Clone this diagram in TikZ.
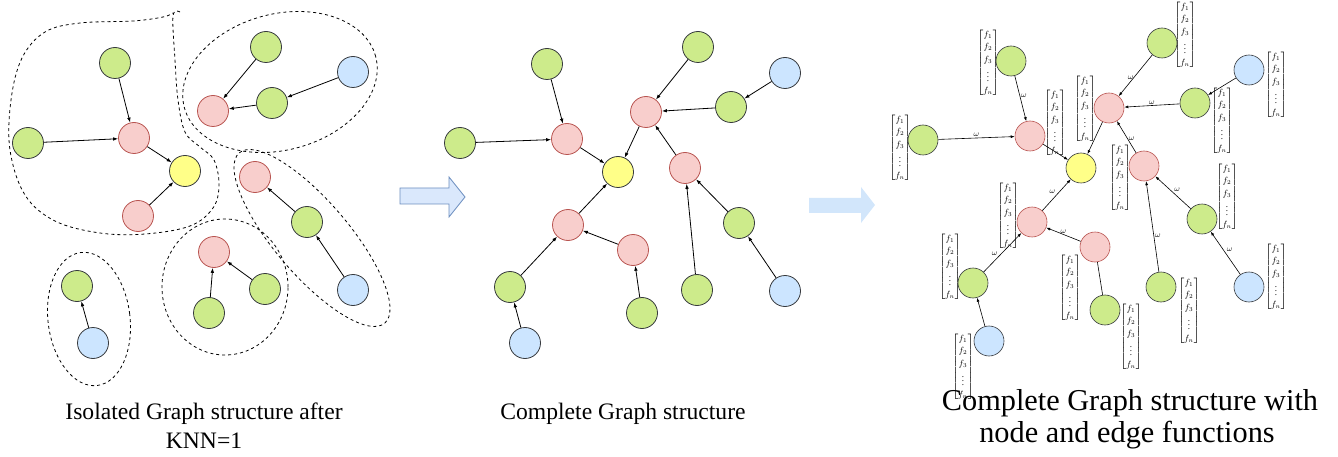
\documentclass[tikz,border=0pt]{standalone}
\usepackage{amsmath}
\usepackage{fontspec}
\setmainfont{Liberation Serif}
\usetikzlibrary{arrows.meta}
\definecolor{gfill}{HTML}{CDEB8B}
\definecolor{pfill}{HTML}{F8CECC}
\definecolor{pdraw}{HTML}{B85450}
\definecolor{yfill}{HTML}{FFFF88}
\definecolor{bfill}{HTML}{CCE5FF}
\definecolor{ndraw}{HTML}{36393D}
\definecolor{arfill}{HTML}{DAE8FC}
\definecolor{ardraw}{HTML}{6C8EBF}
\definecolor{arfillb}{HTML}{D2E6FB}
\newcommand{\fvecx}{$\begin{bmatrix}f_1\\f_2\\f_3\\\vdots\\f_n\end{bmatrix}$}
\tikzset{
  nd/.style={circle, line width=0.8pt, minimum size=31pt, inner sep=0pt},
  gn/.style={nd, draw=ndraw, fill=gfill},
  pn/.style={nd, draw=pdraw, fill=pfill},
  yn/.style={nd, draw=ndraw, fill=yfill},
  bn/.style={nd, draw=ndraw, fill=bfill},
  sm/.style={minimum size=30pt, line width=0.6pt},
  arr/.style={line width=0.8pt, -{Latex[length=5pt,width=3.6pt]}},
  arrs/.style={line width=0.6pt, -{Latex[length=4pt,width=3pt]}},
  plain/.style={line width=0.6pt},
  grp/.style={dashed, line width=0.8pt},
  wl/.style={font=\fontsize{8.5}{8.5}\selectfont, inner sep=1pt},
  mat/.style={inner sep=0pt, font=\fontsize{9}{12.5}\selectfont},
  ttl/.style={font=\fontsize{23.6}{29}\selectfont, inner sep=0pt, anchor=base},
  ttlb/.style={font=\fontsize{30.3}{32.5}\selectfont, inner sep=0pt, anchor=base}
}
\begin{document}
\begin{tikzpicture}[x=1pt, y=-1pt]
\useasboundingbox (0,0) rectangle (1338,457);
% ---------------- left panel ----------------
\draw[grp] plot[smooth, tension=0.6] coordinates {(180,12) (173,16) (175,60) (178,100) (185,132) (200,147) (214,160) (219,185) (213,208) (190,226) (145,234) (100,233) (55,221) (25,195) (10,150) (11,100) (22,58) (45,32) (80,23) (133,21) (163,17) (173,13)};
\draw[grp, rotate around={15:(280,82)}] (280,82) ellipse [x radius=99pt, y radius=68pt];
\draw[grp, rotate around={-49.5:(312,238)}] (312,238) ellipse [x radius=112pt, y radius=37pt];
\draw[grp] (225,287) ellipse [x radius=63pt, y radius=68pt];
\draw[grp, rotate around={7:(89,319)}] (89,319) ellipse [x radius=41pt, y radius=67pt];

\node[gn] (lG1) at (115,63) {};
\node[gn] (lG2) at (28,143) {};
\node[pn] (lP1) at (134,138) {};
\node[yn] (lY) at (185,171) {};
\node[pn] (lP2) at (138,216) {};
\node[gn] (lG3) at (266,47) {};
\node[bn] (lB1) at (353,72) {};
\node[gn] (lG4) at (272,103) {};
\node[pn] (lP3) at (213,111) {};
\node[pn] (lP4) at (255,177) {};
\node[gn] (lG5) at (307,222) {};
\node[bn] (lB2) at (353,290) {};
\node[pn] (lP5) at (214,252) {};
\node[gn] (lG6) at (265,289) {};
\node[gn] (lG7) at (209,313) {};
\node[gn] (lG8) at (77,286) {};
\node[bn] (lB3) at (93,343) {};
\draw[arr] (lG1) -- (lP1);
\draw[arr] (lG2) -- (lP1);
\draw[arr] (lP1) -- (lY);
\draw[arr] (lP2) -- (lY);
\draw[arr] (lG3) -- (lP3);
\draw[arr] (lG4) -- (lP3);
\draw[arr] (lB1) -- (lG4);
\draw[arr] (lG5) -- (lP4);
\draw[arr] (lB2) -- (lG5);
\draw[arr] (lG6) -- (lP5);
\draw[arr] (lG7) -- (lP5);
\draw[arr] (lB3) -- (lG8);

% block arrow 1
\draw[fill=arfill, draw=ardraw, line width=0.8pt] (400,188) -- (449,188) -- (449,177) -- (465,197) -- (449,217) -- (449,204) -- (400,204) -- cycle;

% ---------------- middle panel ----------------
\node[gn] (mGa) at (547,64) {};
\node[gn] (mGb) at (460,143) {};
\node[pn] (mPa) at (567,139) {};
\node[yn] (mY) at (618,172) {};
\node[pn] (mPb) at (646,112) {};
\node[gn] (mGc) at (698,47) {};
\node[bn] (mB1) at (785,73) {};
\node[gn] (mGd) at (731,107) {};
\node[pn] (mPc) at (685,168) {};
\node[gn] (mGe) at (739,223) {};
\node[bn] (mB2) at (785,291) {};
\node[gn] (mGf) at (697,290) {};
\node[pn] (mPd) at (568,225) {};
\node[pn] (mPe) at (633,250) {};
\node[gn] (mGg) at (510,287) {};
\node[gn] (mGh) at (642,313) {};
\node[bn] (mB3) at (525,343) {};
\draw[arr] (mGa) -- (mPa);
\draw[arr] (mGb) -- (mPa);
\draw[arr] (mPa) -- (mY);
\draw[arr] (mPb) -- (mY);
\draw[arr] (mGc) -- (mPb);
\draw[arr] (mGd) -- (mPb);
\draw[arr] (mB1) -- (mGd);
\draw[arr] (mPc) -- (mPb);
\draw[arr] (mGf) -- (mPc);
\draw[arr] (mGe) -- (mPc);
\draw[arr] (mB2) -- (mGe);
\draw[arr] (mPd) -- (mY);
\draw[arr] (mGg) -- (mPd);
\draw[arr] (mPe) -- (mPd);
\draw[arr] (mGh) -- (mPe);
\draw[arr] (mB3) -- (mGg);

% block arrow 2
\fill[arfillb] (809,198) -- (861,198) -- (861,187) -- (875,205) -- (861,223) -- (861,213) -- (809,213) -- cycle;

% ---------------- right panel ----------------
\node[mat] (v1) at (988,63) {\fvecx};
\node[mat] (v2) at (900,148) {\fvecx};
\node[mat] (v3) at (1055,123) {\fvecx};
\node[mat] (v4) at (1085,109) {\fvecx};
\node[mat] (v5) at (1185,35) {\fvecx};
\node[mat] (v6) at (1276,85) {\fvecx};
\node[mat] (v7) at (1222,121) {\fvecx};
\node[mat] (v8) at (1120,178) {\fvecx};
\node[mat] (v9) at (1227,197) {\fvecx};
\node[mat] (v10) at (1276,277) {\fvecx};
\node[mat] (v11) at (1189,311) {\fvecx};
\node[mat] (v12) at (1131,337) {\fvecx};
\node[mat] (v13) at (1070,288) {\fvecx};
\node[mat] (v14) at (1008,216) {\fvecx};
\node[mat] (v15) at (950,267) {\fvecx};
\node[mat] (v16) at (963,367) {\fvecx};

\node[gn, sm] (rG1) at (1011,61) {};
\node[gn, sm] (rG2) at (923,140) {};
\node[pn, sm] (rP1) at (1030,136) {};
\node[yn, sm] (rY) at (1081,168) {};
\node[pn, sm] (rP2) at (1032,222) {};
\node[gn, sm] (rGt) at (1162,43) {};
\node[bn, sm] (rB1) at (1249,70) {};
\node[gn, sm] (rGm) at (1195,103) {};
\node[pn, sm] (rPt) at (1109,108) {};
\node[pn, sm] (rPm) at (1144,166) {};
\node[gn, sm] (rGr) at (1202,219) {};
\node[pn, sm] (rPl) at (1095,247) {};
\node[gn, sm] (rGb) at (1105,310) {};
\node[gn, sm] (rGmb) at (1161,287) {};
\node[bn, sm] (rB2) at (1249,287) {};
\node[gn, sm] (rGlb) at (973,283) {};
\node[bn, sm] (rB3) at (989,341) {};

\draw[arrs] (rG1) -- node[wl, pos=0.45, right] {$\omega$} (rP1);
\draw[arrs] (rG2) -- node[wl, pos=0.5, above] {$\omega$} (rP1);
\draw[arrs] (rP1) -- (rY);
\draw[arrs] (rGt) -- node[wl, pos=0.55, left=-1pt] {$\omega$} (rPt);
\draw[arrs] (rGm) -- node[wl, pos=0.5, above] {$\omega$} (rPt);
\draw[arrs] (rB1) -- (rGm);
\draw[arrs] (rPt) -- (rY);
\draw[arrs] (rPm) -- node[wl, pos=0.45, right] {$\omega$} (rPt);
\draw[arrs] (rGr) -- node[wl, pos=0.5, above right=0pt] {$\omega$} (rPm);
\draw[arrs] (rGmb) -- node[wl, pos=0.4, right] {$\omega$} (rPm);
\draw[arrs] (rB2) -- node[wl, pos=0.5, above right=0pt] {$\omega$} (rGr);
\draw[arrs] (rP2) -- node[wl, pos=0.5, above left=0pt] {$\omega$} (rY);
\draw[arrs] (rPl) -- node[wl, pos=0.5, above] {$\omega$} (rP2);
\draw[arrs] (rGlb) -- node[wl, pos=0.4, above left=0pt] {$\omega$} (rP2);
\draw[plain] (rGb) -- (rPl);
\draw[arrs] (rB3) -- (rGlb);

% ---------------- titles ----------------
\node[ttl] (t1a) at (204,419) {Isolated Graph structure after};
\node[ttl] (t1b) at (204,448) {KNN=1};
\node[ttl] (t2) at (623,419) {Complete Graph structure};
\node[ttlb] (t3a) at (1130,410) {Complete Graph structure with};
\node[ttlb] (t3b) at (1127,442) {node and edge functions};
\end{tikzpicture}
\end{document}
